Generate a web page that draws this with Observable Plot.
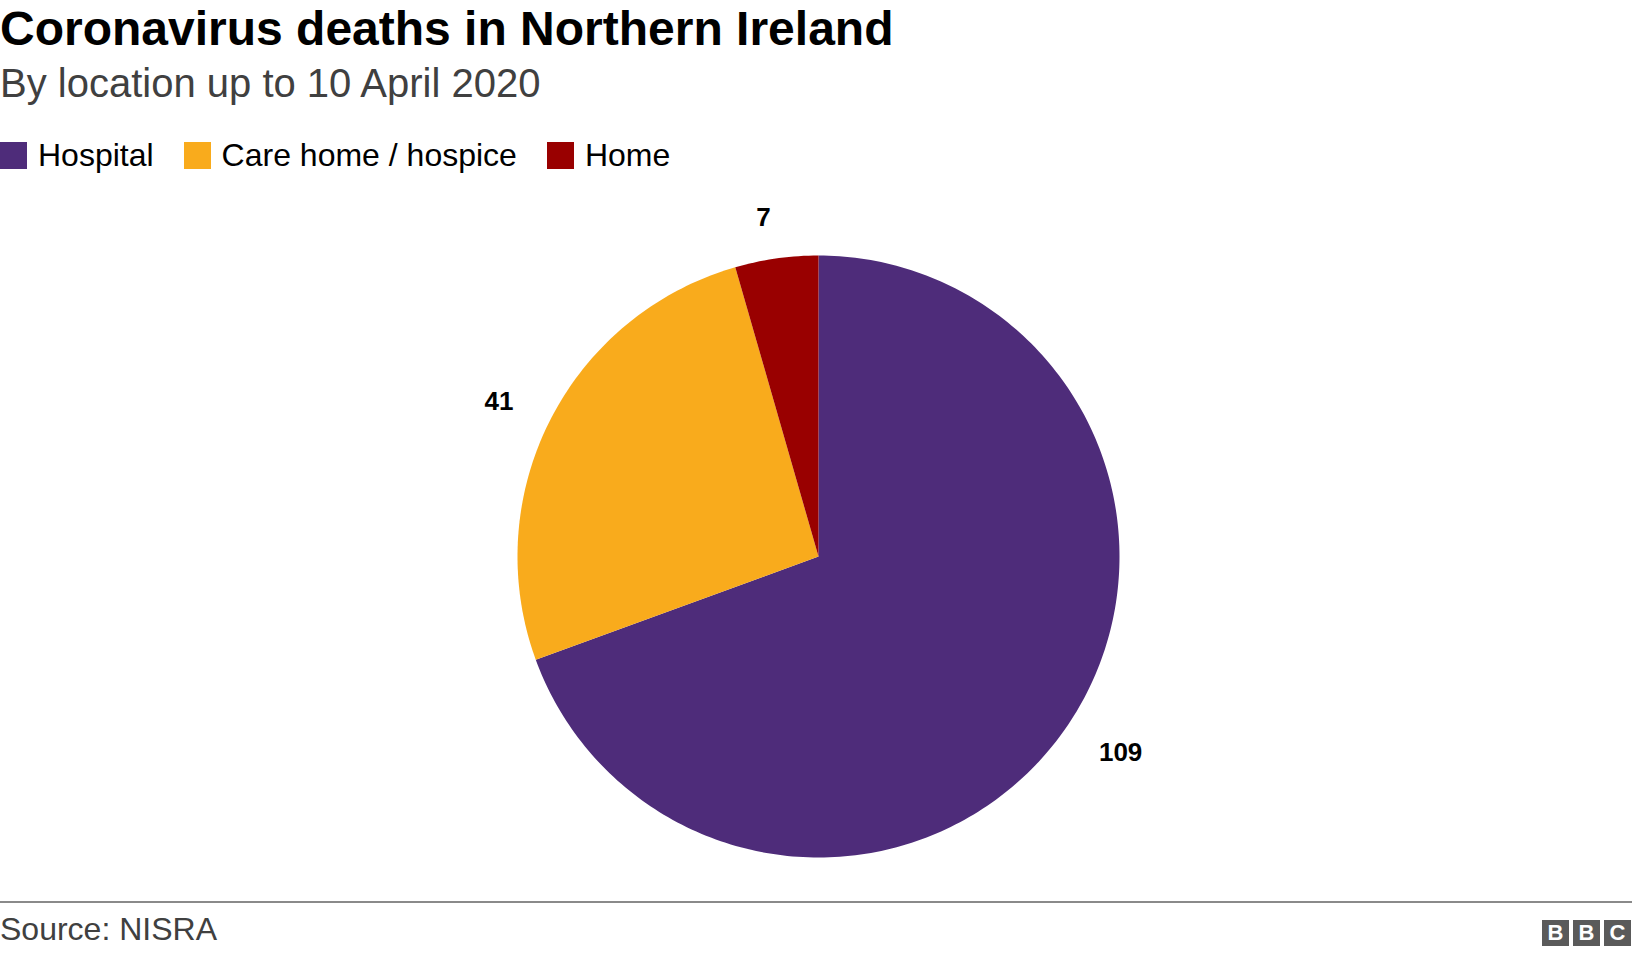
<!DOCTYPE html>
<html>
<head>
<meta charset="utf-8">
<script src="https://cdn.jsdelivr.net/npm/d3@7"></script>
<script src="https://cdn.jsdelivr.net/npm/@observablehq/plot@0.6"></script>
<style>
  html, body { margin: 0; padding: 0; background: #fff; }
  body { width: 1632px; height: 956px; position: relative; overflow: hidden;
         font-family: "Liberation Sans", Arial, sans-serif; }
  .title { position: absolute; left: 0; top: 1px; font-size: 48px; font-weight: bold; color: #000; line-height: 56px; white-space: nowrap; }
  .subtitle { position: absolute; left: 0; top: 60px; font-size: 40px; color: #404040; line-height: 46px; white-space: nowrap; }
  .legend { position: absolute; left: 0; top: 139px; display: flex; align-items: center; font-size: 32px; color: #000; line-height: 32px; }
  .legend .item { display: flex; align-items: center; margin-right: 30px; }
  .legend .sw { width: 27px; height: 27px; margin-right: 11px; }
  #chart { position: absolute; left: 0; top: 185px; }
  .rule { position: absolute; left: 0; top: 901px; width: 1632px; height: 2px; background: #8a8a8a; }
  .source { position: absolute; left: 0: top: 911px; }
  .source { position: absolute; left: 0; top: 911px; font-size: 32px; color: #404040; line-height: 36px; white-space: nowrap; }
  .bbc { position: absolute; left: 1542px; top: 920px; display: flex; }
  .bbc span { width: 27px; height: 26px; background: #5a5a5a; color: #fff; font-weight: bold; font-size: 22px;
              line-height: 26px; text-align: center; margin-right: 4px; }
</style>
</head>
<body>
<div class="title">Coronavirus deaths in Northern Ireland</div>
<div class="subtitle">By location up to 10 April 2020</div>
<div class="legend" id="legend"></div>
<div id="chart"></div>
<div class="rule"></div>
<div class="source">Source: NISRA</div>
<div class="bbc"><span>B</span><span>B</span><span>C</span></div>
<script>
// ---- data ----
const categories = ["Hospital", "Care home / hospice", "Home"];
const deaths = [109, 41, 7];
const colors = ["#4e2c7a", "#f9ab1c", "#990000"];

// legend
const legend = document.getElementById("legend");
categories.forEach((c, i) => {
  const item = document.createElement("div");
  item.className = "item";
  item.innerHTML = `<div class="sw" style="background:${colors[i]}"></div><span>${c}</span>`;
  legend.appendChild(item);
});

// pie geometry computed from the data (clockwise from 12 o'clock)
const total = d3.sum(deaths);
const slices = [];
let acc = 0;
categories.forEach((c, i) => {
  const a0 = acc / total * 2 * Math.PI;
  acc += deaths[i];
  const a1 = acc / total * 2 * Math.PI;
  slices.push({category: c, value: deaths[i], a0, a1});
});
const pts = [];
for (const s of slices) {
  pts.push({category: s.category, x: 0, y: 0});
  const n = Math.max(2, Math.ceil((s.a1 - s.a0) / (2 * Math.PI) * 360));
  for (let k = 0; k <= n; k++) {
    const a = s.a0 + (s.a1 - s.a0) * k / n;
    pts.push({category: s.category, x: Math.sin(a), y: Math.cos(a)});
  }
  pts.push({category: s.category, x: 0, y: 0});
}
const labelR = 1.137;
const labels = slices.map(s => {
  const m = (s.a0 + s.a1) / 2;
  return {label: String(s.value), x: labelR * Math.sin(m), y: labelR * Math.cos(m)};
});

const chart = Plot.plot({
  width: 1632,
  height: 700,
  marginLeft: 517,
  marginRight: 513,
  marginTop: 70,
  marginBottom: 28,
  style: {fontFamily: "Liberation Sans, Arial, sans-serif", background: "transparent"},
  x: {domain: [-1, 1], axis: null},
  y: {domain: [-1, 1], axis: null},
  color: {domain: categories, range: colors},
  marks: [
    Plot.line(pts, {x: "x", y: "y", z: "category", fill: "category", stroke: null, curve: "linear"}),
    Plot.text(labels.filter(d => d.x >= 0), {x: "x", y: "y", text: "label", fontSize: 26, fontWeight: "bold", fill: "#000", textAnchor: "start"}),
    Plot.text(labels.filter(d => d.x < 0), {x: "x", y: "y", text: "label", fontSize: 26, fontWeight: "bold", fill: "#000", textAnchor: "end"})
  ]
});
document.getElementById("chart").appendChild(chart);
</script>
</body>
</html>
